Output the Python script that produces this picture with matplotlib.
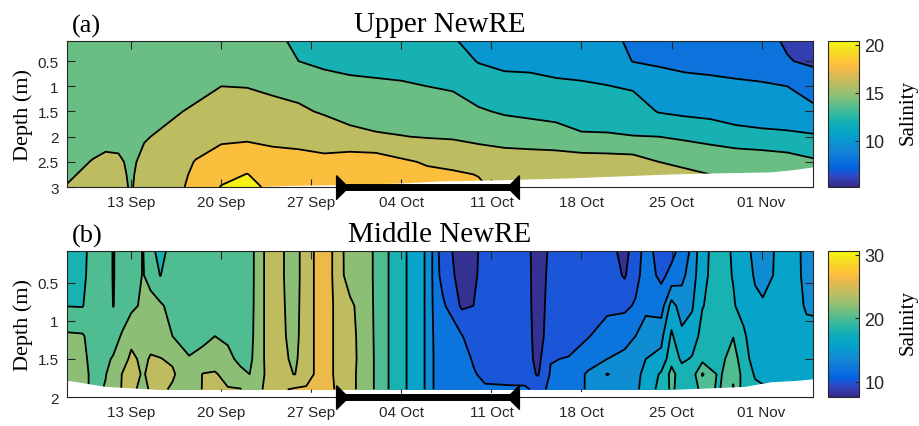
import numpy as np
import matplotlib
matplotlib.use("Agg")
import matplotlib.pyplot as plt
from matplotlib.colors import LinearSegmentedColormap, Normalize
from matplotlib.cm import ScalarMappable
from matplotlib.path import Path

plt.rcParams['font.family'] = ['Liberation Sans', 'DejaVu Sans']
SERIF = ['Liberation Serif', 'DejaVu Serif']
INK = '#262626'

# ---- time axis (days after 8 Sep) ----
tick_days = [5, 12, 19, 26, 33, 40, 47, 54]
tick_labels = ['13 Sep', '20 Sep', '27 Sep', '04 Oct', '11 Oct', '18 Oct', '25 Oct', '01 Nov']
bar_days = [21.4, 34.65]   # black bar period

# ---- (a) Upper NewRE ----
upper_days = [0, 1, 2, 3, 4, 5, 6, 8, 10, 12, 14, 16, 18, 20, 22, 24, 26, 28, 30,
              32, 34, 36, 38, 40, 42, 44, 46, 48, 50, 52, 54, 56, 58]
upper_depths = [0.1, 0.5, 1.0, 1.5, 2.0, 2.5, 2.75, 3.0]
upper_z010 = [14.6, 14.6, 14.6, 14.6, 14.6, 14.6, 14.7, 14.8, 14.8, 14.9, 14.9, 14.6, 13.5, 13.2, 13.0, 12.8, 12.6,
              12.5, 12.1, 11.6, 11.4, 11.2, 11.0, 10.8, 10.6, 9.6, 9.3, 9.1, 8.9, 8.7, 8.5, 7.8, 7.2]
upper_z050 = [14.7, 14.7, 14.7, 14.8, 14.8, 14.8, 14.9, 15.0, 15.1, 15.2, 15.2, 15.0, 14.0, 13.7, 13.5, 13.4, 13.3,
              13.2, 12.8, 11.9, 11.6, 11.5, 11.4, 11.3, 11.0, 9.95, 9.8, 9.6, 9.5, 9.3, 9.1, 8.1, 7.7]
upper_z100 = [14.9, 14.9, 15.0, 15.0, 15.0, 15.0, 15.1, 15.4, 15.6, 16.0, 15.95, 15.7, 15.4, 14.6, 14.4, 14.3, 14.2,
              14.0, 13.8, 13.1, 12.6, 12.6, 12.3, 12.2, 12.05, 11.8, 10.7, 10.5, 10.4, 10.3, 10.2, 10.0, 9.0]
upper_z150 = [15.1, 15.2, 15.3, 15.3, 15.3, 15.3, 15.5, 15.8, 16.2, 16.9, 16.8, 16.5, 16.3, 15.8, 15.4, 15.2, 15.1,
              15.0, 14.8, 14.2, 13.8, 13.6, 13.4, 13.2, 13.0, 12.9, 11.9, 11.6, 11.4, 11.3, 11.2, 11.1, 10.5]
upper_z200 = [15.4, 15.5, 15.6, 15.7, 15.7, 15.6, 15.9, 16.3, 17.0, 17.7, 17.7, 17.6, 17.5, 17.2, 16.5, 16.2, 16.05,
              15.9, 15.8, 15.5, 15.2, 15.0, 14.8, 14.2, 14.2, 14.05, 14.0, 13.7, 13.4, 12.6, 12.4, 12.3, 12.2]
upper_z250 = [15.7, 15.85, 16.05, 16.2, 16.15, 15.8, 16.3, 16.8, 18.1, 18.7, 19.2, 18.6, 18.5, 18.4, 19.0, 19.0, 18.3,
              17.8, 17.6, 17.2, 17.0, 17.0, 17.0, 17.0, 16.9, 16.8, 16.0, 15.7, 15.3, 15.6, 15.4, 15.0, 14.3]
upper_z275 = [15.85, 16.05, 16.2, 16.3, 16.25, 15.85, 16.5, 17.0, 18.4, 19.4, 20.05, 19.2, 19.0, 18.8, 19.3, 19.2, 18.8,
              18.4, 18.2, 17.95, 17.4, 17.2, 17.2, 17.3, 17.2, 17.0, 16.6, 16.3, 16.0, 15.9, 15.7, 15.3, 14.8]
upper_z300 = [16.05, 16.2, 16.3, 16.4, 16.3, 15.9, 16.6, 17.2, 18.6, 20.1, 20.5, 19.6, 19.3, 19.1, 19.5, 19.4, 19.0,
              18.7, 18.5, 18.2, 17.6, 17.5, 17.3, 17.5, 17.4, 17.2, 16.8, 16.6, 16.3, 16.0, 15.8, 15.5, 15.0]
upper_bottom_days = [0, 14, 17, 22, 26, 29, 33, 39, 47, 50.4, 54.7, 56.3, 58]
upper_bottom_depth = [3.0, 3.0, 2.97, 2.95, 2.92, 2.88, 2.86, 2.82, 2.74, 2.72, 2.7, 2.66, 2.6]

# ---- (b) Middle NewRE ----
middle_days = [0, 1.2, 2, 3, 3.6, 4.3, 5, 5.9, 6.5, 7.25, 8.2, 9.5, 10.6, 11.5, 12.5, 13.5, 14.2, 14.85,
               15.8, 17.7, 18.6, 20, 21.2, 22, 23.2, 24.4, 25.6, 27.2, 28.1, 28.6, 29.2, 30.7, 31.6, 32.5,
               34.5, 35.6, 36.6, 37.6, 39, 40.5, 42, 43.35, 44.2, 45, 46.2, 47, 47.8, 48.6, 49.4, 50.7,
               51.8, 52.6, 53.5, 54.1, 55.3, 56.8, 57.5, 58]
middle_depths = [0.08, 0.4, 0.8, 1.2, 1.5, 1.7, 1.9]
middle_z008 = [19.2, 19.4, 20.8, 20.8, 19.9, 20.8, 20.8, 22.1, 20.6, 19.3, 20.8, 20.8, 20.8, 20.8, 20.8, 20.8,
               20.9, 23.1, 24.9, 23.3, 24.9, 27.5, 24.6, 23.0, 22.9, 21.0, 19.0, 17.0, 15.5, 13.0, 11.0, 9.0,
               9.3, 11.0, 11.0, 11.0, 8.8, 10.4, 11.0, 11.0, 11.0, 9.2, 11.2, 12.6, 11.3, 11.5, 12.6, 14.5,
               17.5, 18.8, 17.8, 16.3, 15.8, 15.0, 16.4, 16.3, 15.4, 15.5]
middle_z040 = [19.4, 19.5, 20.9, 20.8, 19.9, 20.8, 20.9, 22.1, 21.4, 19.95, 20.9, 20.8, 20.8, 20.8, 20.8, 20.8,
               20.9, 23.1, 24.9, 23.3, 24.9, 27.5, 24.6, 23.1, 22.9, 21.0, 19.0, 17.0, 15.5, 13.0, 11.3, 9.2,
               9.5, 11.0, 11.0, 11.0, 8.9, 10.6, 11.0, 11.0, 11.1, 9.8, 11.4, 12.8, 11.6, 12.5, 13.5, 15.0,
               17.6, 18.8, 17.9, 16.5, 15.9, 15.2, 16.4, 16.3, 15.5, 15.6]
middle_z080 = [19.95, 19.9, 21.0, 21.0, 19.95, 21.0, 21.6, 22.3, 22.6, 22.3, 21.3, 21.0, 21.0, 21.1, 21.0, 21.0,
               21.0, 23.1, 24.9, 23.4, 24.9, 27.5, 24.9, 24.4, 23.0, 21.0, 19.0, 17.0, 15.5, 13.2, 12.4, 9.7,
               10.0, 11.0, 11.0, 11.0, 9.0, 10.8, 11.0, 11.2, 11.6, 11.6, 12.2, 13.5, 13.0, 16.8, 15.0, 15.8,
               17.9, 19.0, 18.2, 17.2, 16.2, 16.3, 16.5, 16.4, 15.8, 15.9]
middle_z120 = [22.3, 22.2, 21.2, 21.3, 21.3, 22.2, 23.3, 22.8, 23.2, 23.2, 22.0, 21.4, 21.7, 22.0, 21.8, 21.2,
               21.2, 23.1, 24.9, 23.5, 24.9, 27.5, 24.9, 24.6, 23.1, 21.0, 19.0, 17.0, 15.5, 13.5, 13.0, 12.1,
               11.0, 11.0, 11.0, 11.0, 9.2, 10.9, 11.2, 11.9, 12.8, 13.3, 14.0, 15.0, 15.5, 18.3, 16.5, 16.8,
               18.8, 19.2, 19.95, 18.4, 16.6, 16.4, 16.7, 16.6, 16.5, 16.2]
middle_z150 = [22.6, 22.5, 21.4, 21.7, 22.15, 23.0, 24.5, 23.5, 24.2, 24.05, 23.8, 22.1, 22.4, 22.6, 22.3, 21.7,
               21.5, 23.1, 24.9, 23.7, 24.9, 27.5, 24.9, 24.6, 23.2, 21.0, 19.0, 17.0, 15.5, 13.6, 13.3, 12.8,
               11.8, 11.2, 11.0, 11.0, 9.4, 11.9, 12.1, 13.0, 14.0, 14.5, 15.0, 16.0, 16.5, 19.4, 17.6, 18.2,
               19.4, 19.4, 20.8, 19.0, 17.0, 16.8, 16.9, 16.8, 16.8, 16.5]
middle_z170 = [22.8, 22.6, 21.6, 21.95, 22.5, 24.1, 24.8, 23.8, 24.5, 24.4, 24.2, 23.0, 24.1, 24.3, 23.0, 22.3,
               22.0, 23.1, 24.8, 23.95, 24.9, 27.5, 24.9, 24.5, 23.2, 21.0, 19.0, 17.0, 15.5, 13.6, 13.4, 12.9,
               12.2, 11.5, 11.2, 11.1, 9.8, 12.2, 12.5, 14.3, 16.1, 15.2, 15.5, 16.5, 18.3, 20.6, 19.0, 19.0,
               22.2, 19.6, 21.6, 19.3, 17.8, 17.4, 17.4, 17.2, 17.0, 16.8]
middle_z190 = [22.8, 22.6, 21.6, 22.1, 22.6, 24.2, 24.4, 23.5, 24.2, 24.3, 23.8, 23.2, 24.1, 24.2, 24.2, 24.1,
               22.5, 23.1, 25.5, 26.2, 26.3, 27.5, 25.2, 24.5, 23.2, 21.0, 19.0, 17.0, 15.5, 13.6, 13.4, 12.9,
               12.3, 12.3, 12.3, 12.3, 11.5, 12.3, 12.5, 14.3, 14.8, 15.0, 15.5, 17.0, 18.6, 20.4, 19.0, 19.0,
               20.6, 19.8, 22.2, 19.0, 18.4, 18.3, 18.2, 17.9, 17.0, 17.0]
middle_bottom_days = [0, 3, 8, 14, 20, 26, 33, 40, 45, 47, 50, 52.7, 54.7, 56.8, 58]
middle_bottom_depth = [1.78, 1.86, 1.91, 1.93, 1.94, 1.95, 1.94, 1.93, 1.92, 1.9, 1.88, 1.86, 1.8, 1.78, 1.76]

# MATLAB parula colour ramp
parula = LinearSegmentedColormap.from_list('parula', [
    (0 / 63, (0.2081, 0.1663, 0.5292)), (4 / 63, (0.1959, 0.2645, 0.7279)),
    (6 / 63, (0.1253, 0.3242, 0.8303)), (8 / 63, (0.0117, 0.3875, 0.8820)),
    (12 / 63, (0.0498, 0.4586, 0.8641)), (16 / 63, (0.0793, 0.5200, 0.8312)),
    (20 / 63, (0.0343, 0.5966, 0.8199)), (24 / 63, (0.0228, 0.6535, 0.7768)),
    (28 / 63, (0.0843, 0.6928, 0.7062)), (32 / 63, (0.2178, 0.7250, 0.6193)),
    (36 / 63, (0.3953, 0.7459, 0.5244)), (40 / 63, (0.5709, 0.7485, 0.4494)),
    (44 / 63, (0.7184, 0.7411, 0.3905)), (48 / 63, (0.8507, 0.7299, 0.3360)),
    (52 / 63, (0.9739, 0.7314, 0.2666)), (54 / 63, (0.9990, 0.7653, 0.2164)),
    (56 / 63, (0.9880, 0.8066, 0.1794)), (60 / 63, (0.9589, 0.8949, 0.1132)),
    (63 / 63, (0.9763, 0.9831, 0.0538))])

# bar end markers: narrow triangles pointing inwards
tri_right = Path([(-0.25, 0.5), (0.25, 0.0), (-0.25, -0.5), (-0.25, 0.5)])
tri_left = Path([(0.25, 0.5), (-0.25, 0.0), (0.25, -0.5), (0.25, 0.5)])


def panel(ax, cax, days, depths, rows, levels, vmin, vmax, bot_days, bot_depth,
          ztop, zmax, yticks, yticklabels, cticks, title, tag):
    sal = np.array(rows)
    norm = Normalize(vmin, vmax)
    # MATLAB contourf colours each band by its lower level
    band_cols = [parula(float(np.clip(norm(lv), 0, 1))) for lv in levels[:-1]]
    ax.contourf(days, depths, sal, levels=levels, colors=band_cols, zorder=1)
    ax.contour(days, depths, sal, levels=levels, colors='k', linewidths=1.3, zorder=1.5)
    ax.fill_between(bot_days, bot_depth, zmax, color='white', lw=0, zorder=2.1)

    ax.set_xlim(0, 58)
    ax.set_ylim(zmax, ztop)
    ax.set_xticks(tick_days)
    ax.set_xticklabels(tick_labels)
    ax.set_yticks(yticks)
    ax.set_yticklabels(yticklabels)
    ax.tick_params(direction='in', length=6, width=0.8, top=True, right=True,
                   colors=INK, labelsize=11, pad=6)
    for s in ax.spines.values():
        s.set_color(INK)
        s.set_linewidth(0.8)
    ax.set_ylabel('Depth (m)', family=SERIF, fontsize=16, color='black')
    ax.yaxis.set_label_coords(-0.046, 0.5)
    ax.set_title(title, family=SERIF, fontsize=21, pad=7)
    ax.text(0.007, 1.062, tag, transform=ax.transAxes, family=SERIF, fontsize=19,
            va='baseline', ha='left')

    # black bar along the bottom axis
    ax.plot(bar_days, [zmax, zmax], color='k', lw=5, clip_on=False, zorder=6,
            solid_capstyle='butt')
    ax.plot(bar_days[0], zmax, marker=tri_right, ms=17, color='k', clip_on=False, zorder=6)
    ax.plot(bar_days[1], zmax, marker=tri_left, ms=17, color='k', clip_on=False, zorder=6)

    cb = plt.colorbar(ScalarMappable(norm=norm, cmap=parula), cax=cax)
    cb.set_ticks(cticks)
    cb.outline.set_edgecolor(INK)
    cb.outline.set_linewidth(0.8)
    cax.tick_params(direction='in', length=3, width=0.8, colors=INK, labelsize=13, pad=4)
    cb.set_label('Salinity', family=SERIF, fontsize=15)
    cax.yaxis.set_label_coords(2.29, 0.52)


fig = plt.figure(figsize=(9.19, 4.27), dpi=100)
W, H = 919, 427
ax_a = fig.add_axes([67 / W, 1 - 188 / H, 746 / W, 146 / H])
cax_a = fig.add_axes([828 / W, 1 - 188 / H, 31 / W, 146 / H])
ax_b = fig.add_axes([67 / W, 1 - 398 / H, 746 / W, 146 / H])
cax_b = fig.add_axes([828 / W, 1 - 398 / H, 31 / W, 146 / H])

panel(ax_a, cax_a, upper_days, upper_depths,
      [upper_z010, upper_z050, upper_z100, upper_z150, upper_z200, upper_z250, upper_z275, upper_z300],
      np.arange(4, 24, 2), 5.2, 20.4, upper_bottom_days, upper_bottom_depth,
      0.1, 3.0, [0.5, 1, 1.5, 2, 2.5, 3], ['0.5', '1', '1.5', '2', '2.5', '3'],
      [10, 15, 20], 'Upper NewRE', '(a)')

panel(ax_b, cax_b, middle_days, middle_depths,
      [middle_z008, middle_z040, middle_z080, middle_z120, middle_z150, middle_z170, middle_z190],
      np.arange(6, 32, 2), 7.6, 30.6, middle_bottom_days, middle_bottom_depth,
      0.08, 2.0, [0.5, 1, 1.5, 2], ['0.5', '1', '1.5', '2'],
      [10, 20, 30], 'Middle NewRE', '(b)')

fig.savefig('out.png', dpi=100)
